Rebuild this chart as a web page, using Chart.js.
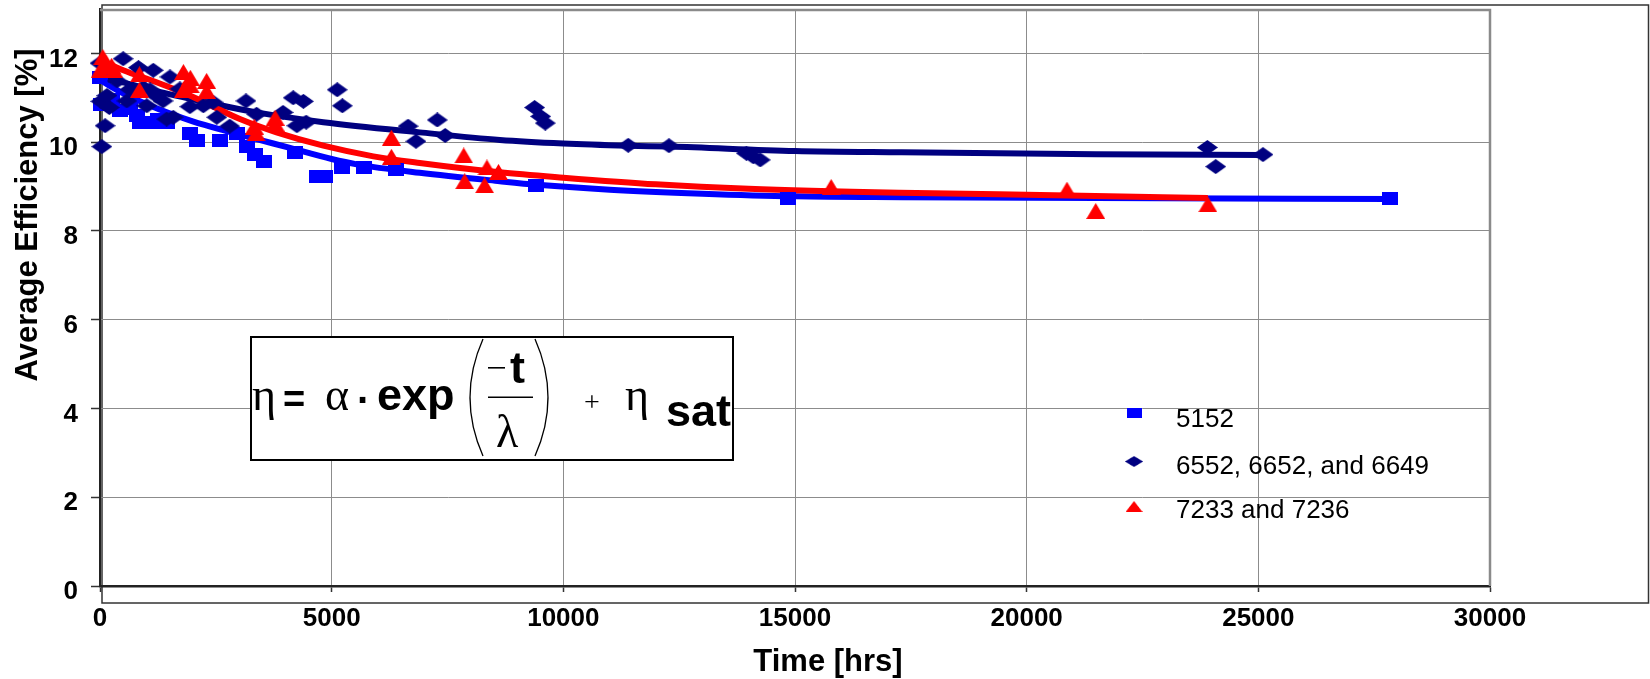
<!DOCTYPE html>
<html>
<head>
<meta charset="utf-8">
<title>Average Efficiency vs Time</title>
<script src="https://cdn.jsdelivr.net/npm/chart.js@4.4.1/dist/chart.umd.min.js"></script>
<style>
  html, body { margin: 0; padding: 0; background: #fff; }
  #wrap { width: 1650px; height: 679px; }
</style>
</head>
<body>
<div id="wrap"><canvas id="c" width="1650" height="679"></canvas></div>
<script>
// ---- Measured data: operating time [hrs] and average efficiency [%] ----
// Module 5152
const hours5152 = [0, 30, 250, 430, 650, 800, 870, 1150, 1250, 1450, 1950, 2090, 2590, 2950, 3170, 3340, 3550, 4200, 4680, 4850, 5230, 5690, 6380, 9420, 14850, 27850];
const eff5152   = [11.45, 10.85, 10.95, 10.72, 10.75, 10.6, 10.45, 10.45, 10.5, 10.45, 10.2, 10.04, 10.04, 10.2, 9.9, 9.72, 9.57, 9.77, 9.23, 9.22, 9.44, 9.44, 9.38, 9.02, 8.73, 8.73];

// Modules 6552, 6652 and 6649
const hours6552 = [0, 20, 40, 110, 150, 200, 370, 500, 580, 650, 830, 935, 1010, 1080, 1150, 1220, 1360, 1440, 1510, 1580, 1725, 1940, 2230, 2440, 2520, 2800, 3150, 3380, 3950, 4170, 4250, 4390, 4450, 5120, 5230, 6650, 6820, 7280, 7450, 9380, 9510, 9610, 11400, 12280, 13950, 14100, 14250, 23900, 24080, 25100];
const eff6552   = [11.78, 10.92, 9.9, 10.37, 11.05, 10.78, 11.38, 11.88, 10.93, 11.19, 11.68, 11.23, 10.82, 11.18, 11.62, 11.04, 10.93, 10.52, 11.47, 10.56, 11.2, 10.8, 10.82, 10.9, 10.56, 10.36, 10.93, 10.63, 10.67, 11.0, 10.37, 10.92, 10.45, 11.18, 10.82, 10.36, 10.02, 10.5, 10.15, 10.78, 10.58, 10.43, 9.93, 9.92, 9.75, 9.67, 9.6, 9.88, 9.45, 9.72];

// Modules 7233 and 7236
const hours7233 = [0, 60, 130, 250, 300, 850, 850, 1800, 1950, 1800, 1950, 2300, 2300, 3330, 3370, 3780, 3780, 6290, 6290, 7850, 7870, 8300, 8350, 8600, 15780, 20870, 21490, 23910];
const eff7233   = [11.62, 11.92, 11.78, 11.72, 11.62, 11.53, 11.18, 11.58, 11.45, 11.18, 11.28, 11.38, 11.15, 10.35, 10.2, 10.55, 10.42, 10.1, 9.67, 9.7, 9.12, 9.03, 9.43, 9.33, 8.99, 8.93, 8.45, 8.6];

// Fitted curves  eta = alpha * exp(-t / lambda) + eta_sat
const fitHours5152 = [0, 500, 1000, 1500, 2000, 2660, 3380, 4100, 5000, 5540, 6900, 8630, 9440, 11000, 13000, 15000, 17300, 21500, 27860];
const fitEff5152   = [11.4, 11.1, 10.86, 10.65, 10.47, 10.27, 10.07, 9.87, 9.62, 9.5, 9.31, 9.12, 9.04, 8.93, 8.84, 8.78, 8.76, 8.74, 8.72];
const fitHours6552 = [0, 600, 1220, 2300, 3380, 4820, 6900, 8630, 10000, 11400, 12300, 15000, 17300, 21500, 25100];
const fitEff6552   = [11.45, 11.32, 11.15, 10.9, 10.67, 10.45, 10.22, 10.05, 9.97, 9.92, 9.9, 9.8, 9.77, 9.73, 9.71];
const fitHours7233 = [0, 500, 1220, 1940, 2440, 3020, 3810, 4820, 5900, 6900, 8630, 10000, 12000, 14000, 17260, 20900, 23910];
const fitEff7233   = [11.85, 11.62, 11.35, 11.05, 10.8, 10.52, 10.22, 9.92, 9.68, 9.53, 9.32, 9.2, 9.05, 8.95, 8.86, 8.8, 8.74];

// Axis ticks and labels
const timeTicks = [0, 5000, 10000, 15000, 20000, 25000, 30000];
const effTicks  = [0, 2, 4, 6, 8, 10, 12];
const seriesLabels = ['5152', '6552, 6652, and 6649', '7233 and 7236'];
const xTitle = 'Time [hrs]';
const yTitle = 'Average Efficiency [%]';

// ---- Styling ----
const SANS = "'Liberation Sans', Arial, Helvetica, sans-serif";
const SERIF = "'Liberation Serif', 'Times New Roman', serif";
const BLUE = '#0000ff', NAVY = '#000080', RED = '#ff0000';
const GRID = '#8c8c8c';

function toPoints(xs, ys) { return xs.map((x, i) => ({ x: x, y: ys[i] })); }

// Marker images (slightly wider than tall)
function makeMarker(shape, w, h, color) {
  const c = document.createElement('canvas');
  c.width = w; c.height = h;
  const g = c.getContext('2d');
  g.fillStyle = color;
  g.beginPath();
  if (shape === 'square') {
    g.rect(0, 0, w, h);
  } else if (shape === 'diamond') {
    g.moveTo(w / 2, 0); g.lineTo(w, h / 2); g.lineTo(w / 2, h); g.lineTo(0, h / 2);
  } else {
    g.moveTo(w / 2, 0); g.lineTo(w, h); g.lineTo(0, h);
  }
  g.closePath();
  g.fill();
  return c;
}
const squareMark = makeMarker('square', 16, 13, BLUE);
const diamondMark = makeMarker('diamond', 21, 15, NAVY);
const triangleMark = makeMarker('triangle', 19, 16, RED);

// Frame, plot border, titles, legend and formula box
const decorations = {
  id: 'decorations',
  beforeDraw(chart) {
    const ctx = chart.ctx;
    ctx.save();
    ctx.fillStyle = '#fff';
    ctx.fillRect(0, 0, chart.width, chart.height);
    ctx.strokeStyle = '#333';
    ctx.lineWidth = 1.5;
    ctx.strokeRect(102, 5, 1546.5, 598);
    ctx.restore();
  },
  beforeDatasetsDraw(chart) {
    const ctx = chart.ctx, a = chart.chartArea;
    ctx.save();
    ctx.strokeStyle = '#8a8a8a';
    ctx.lineWidth = 2.5;
    ctx.beginPath();
    ctx.moveTo(a.left, a.top + 1);
    ctx.lineTo(a.right, a.top + 1);
    ctx.lineTo(a.right, a.bottom);
    ctx.stroke();
    ctx.restore();
  },
  afterDraw(chart) {
    const ctx = chart.ctx;
    ctx.save();
    ctx.fillStyle = '#000';

    // Axis titles
    ctx.font = 'bold 31px ' + SANS;
    ctx.textAlign = 'center';
    ctx.textBaseline = 'alphabetic';
    ctx.fillText(xTitle, 828, 671);
    ctx.save();
    ctx.translate(37, 215);
    ctx.rotate(-Math.PI / 2);
    ctx.fillText(yTitle, 0, 0);
    ctx.restore();

    // Legend
    const marks = [
      { img: squareMark, w: 15, h: 10, cy: 412.5, base: 427 },
      { img: diamondMark, w: 18, h: 11, cy: 461.5, base: 473.5 },
      { img: triangleMark, w: 17, h: 11, cy: 506.5, base: 518 }
    ];
    ctx.textAlign = 'left';
    ctx.font = '26px ' + SANS;
    marks.forEach((m, i) => {
      ctx.drawImage(m.img, 1134 - m.w / 2, m.cy - m.h / 2, m.w, m.h);
      ctx.fillText(chart.data.datasets[i].label, 1176, m.base);
    });

    // Formula box
    ctx.fillStyle = '#fff';
    ctx.fillRect(251, 337, 482, 123);
    ctx.strokeStyle = '#000';
    ctx.lineWidth = 2;
    ctx.strokeRect(251, 337, 482, 123);
    ctx.fillStyle = '#000';
    ctx.font = '46px ' + SERIF;
    ctx.fillText('η', 252, 410);
    ctx.font = 'bold 38px ' + SANS;
    ctx.fillText('=', 283, 412);
    ctx.font = '46px ' + SERIF;
    ctx.fillText('α', 325, 410);
    ctx.font = 'bold 40px ' + SANS;
    ctx.fillText('·', 357, 414);
    ctx.font = 'bold 45px ' + SANS;
    ctx.fillText('exp', 377, 410);
    // large parentheses
    ctx.lineWidth = 1.3;
    ctx.beginPath();
    ctx.moveTo(483, 339); ctx.quadraticCurveTo(457, 397.5, 483, 456);
    ctx.moveTo(535, 339); ctx.quadraticCurveTo(561, 397.5, 535, 456);
    ctx.stroke();
    // fraction  -t / lambda
    ctx.fillRect(488, 367, 17, 1.6);
    ctx.font = 'bold 45px ' + SANS;
    ctx.fillText('t', 510, 383);
    ctx.fillRect(488, 396.5, 45, 1.5);
    ctx.font = '46px ' + SERIF;
    ctx.fillText('λ', 496, 447);
    ctx.font = '28px ' + SERIF;
    ctx.fillText('+', 584, 411);
    ctx.font = '46px ' + SERIF;
    ctx.fillText('η', 625, 410);
    ctx.font = 'bold 45px ' + SANS;
    ctx.fillText('sat', 666, 426);
    ctx.restore();
  }
};

Chart.defaults.font.family = SANS;
Chart.defaults.color = '#000';

const fitStyle = (color, order) => ({
  showLine: true,
  borderColor: color,
  backgroundColor: color,
  borderWidth: 6,
  pointRadius: 0,
  pointHoverRadius: 0,
  cubicInterpolationMode: 'monotone',
  order: order
});

// Keep the plot rectangle fixed: no extra room reserved for edge labels
function noEdgePadding(s) {
  s.paddingTop = 0; s.paddingBottom = 0; s.paddingLeft = 0; s.paddingRight = 0;
}

new Chart(document.getElementById('c'), {
  type: 'scatter',
  data: {
    datasets: [
      { label: seriesLabels[0], data: toPoints(hours5152, eff5152), pointStyle: squareMark, pointRadius: 8, backgroundColor: BLUE, borderColor: BLUE, clip: false, order: 2 },
      { label: seriesLabels[1], data: toPoints(hours6552, eff6552), pointStyle: diamondMark, pointRadius: 8, backgroundColor: NAVY, borderColor: NAVY, clip: false, order: 1 },
      { label: seriesLabels[2], data: toPoints(hours7233, eff7233), pointStyle: triangleMark, pointRadius: 8, backgroundColor: RED, borderColor: RED, clip: false, order: 0 },
      Object.assign({ label: 'fit 5152', data: toPoints(fitHours5152, fitEff5152) }, fitStyle(BLUE, 5)),
      Object.assign({ label: 'fit 6552', data: toPoints(fitHours6552, fitEff6552) }, fitStyle(NAVY, 4)),
      Object.assign({ label: 'fit 7233', data: toPoints(fitHours7233, fitEff7233) }, fitStyle(RED, 3))
    ]
  },
  options: {
    responsive: false,
    devicePixelRatio: 1,
    animation: false,
    events: [],
    layout: { padding: { left: 0, top: 6, right: 160, bottom: 0 } },
    plugins: { legend: { display: false }, tooltip: { enabled: false } },
    scales: {
      x: {
        type: 'linear',
        min: 0,
        max: 30000,
        afterBuildTicks: s => { s.ticks = timeTicks.map(v => ({ value: v })); },
        afterFit: s => { s.height = 93; noEdgePadding(s); },
        grid: { color: GRID, lineWidth: 1, tickLength: 6, tickColor: '#333', tickWidth: 1.5 },
        border: { color: '#222', width: 2.5 },
        ticks: { font: { size: 26, weight: 'bold' }, padding: 11, maxRotation: 0, autoSkip: false, callback: v => String(v) }
      },
      y: {
        type: 'linear',
        min: 0,
        max: 13,
        afterBuildTicks: s => { s.ticks = effTicks.map(v => ({ value: v })); },
        afterFit: s => { s.width = 100; noEdgePadding(s); },
        grid: { color: GRID, lineWidth: 1, tickLength: 9, tickColor: '#333', tickWidth: 1.5 },
        border: { color: '#222', width: 2 },
        ticks: { font: { size: 26, weight: 'bold' }, padding: 13, labelOffset: 6, autoSkip: false, callback: v => String(v) }
      }
    }
  },
  plugins: [decorations]
});
</script>
</body>
</html>
